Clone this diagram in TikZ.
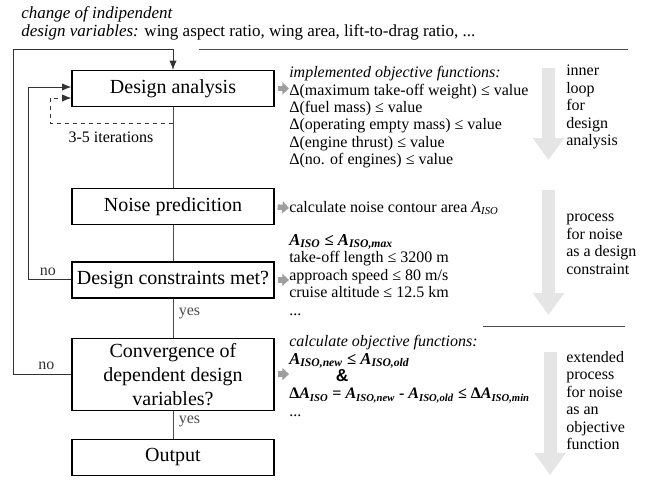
\documentclass[tikz,border=0pt]{standalone}
\usepackage{fontspec}
\setmainfont{Liberation Serif}
\setsansfont{Liberation Sans}
\usetikzlibrary{%
  arrows.meta,
  positioning,
  calc}
\tikzset{
  %% Process boxes of the main loop
  procbox/.style={
    rectangle, draw=black, line width=0.9pt, fill=white,
    minimum width=151.5pt, minimum height=27pt,
    align=center, inner sep=1pt,
    font=\fontsize{15}{18}\selectfont},
  %% Text blocks beside the boxes
  notetext/.style={
    anchor=north west, align=left, inner sep=0pt,
    font=\fontsize{12}{13.1}\selectfont},
  %% Small labels on connectors
  looplabel/.style={
    inner sep=1pt, font=\fontsize{12}{14}\selectfont},
  %% Lines and arrows
  flowline/.style={line width=0.7pt, black!70},
  arrow/.style={-{Latex[length=7pt,width=5.5pt]}, line width=0.7pt, black!80},
  darrow/.style={-{Latex[length=7pt,width=5.5pt]}, line width=0.6pt, dashed, black!80},
  garrow/.style={-{Triangle[length=5pt,width=9pt]}, line width=4pt, black!38},
  bigarrow/.style={-{Triangle[length=16.5pt,width=22.5pt]}, line width=9.75pt, black!10},
}
\newcommand{\Aiso}[1]{\textbf{\textit{A}}\textsubscript{\textbf{\textit{#1}}}}

\begin{document}
\begin{tikzpicture}[x=0.75pt, y=-0.75pt]
  \useasboundingbox (0,0) rectangle (645,480);

  %% Main column of process boxes
  \node[procbox] (da) at (173,88.5) {Design analysis};
  \node[procbox, below=60.75pt of da] (np) {Noise predicition};
  \node[procbox, below=27pt of np]    (dc) {Design constraints met?};
  \node[procbox, below=29.25pt of dc, minimum height=54pt] (cv)
    {Convergence of\\ dependent design\\ variables?};
  \node[procbox, below=21pt of cv]    (out) {Output};

  %% Main flow
  \draw[flowline] (da) -- (np);
  \draw[flowline] (np) -- (dc);
  \draw[flowline] (dc) -- node[looplabel, right=3pt, pos=0.38] {yes} (cv);
  \draw[flowline] (cv) -- node[looplabel, right=3pt, pos=0.4]  {yes} (out);

  %% Inner loop (dashed)
  \coordinate (dsplit) at (173,123);
  \coordinate (dturn)  at (50,98);
  \draw[darrow] (dsplit) -| (dturn) -- (da.west |- dturn);
  \node[looplabel] (iter) at (111,137) {3-5 iterations};

  %% Constraint loop
  \coordinate (cturn) at (28,87);
  \draw[arrow] (dc.west) -- node[looplabel, above=2pt, pos=0.54] {no} (cturn |- dc.west)
    -- (cturn) -- (da.west |- cturn);

  %% Convergence loop
  \coordinate (oturn) at (13,49);
  \draw[arrow] (cv.west) -- node[looplabel, above=2pt, pos=0.43] {no} (oturn |- cv.west)
    -- (oturn) -| (da.north);

  %% Independent design variables
  \node[notetext, font=\fontsize{12.75}{13.6}\selectfont] (topvar) at (21,6)
    {\textit{change of indipendent}\\
     \textit{design variables:} wing aspect ratio, wing area, lift-to-drag ratio, ...};
  \draw[flowline] (199,49) -- (628,49);
  \draw[flowline] (483,326) -- (625,326);

  %% Text beside the boxes
  \node[notetext] (daobj) at (289,66)
    {\textit{implemented objective functions:}\\
     Δ(maximum take-off weight) ≤ value\\
     Δ(fuel mass) ≤ value\\
     Δ(operating empty mass) ≤ value\\
     Δ(engine thrust) ≤ value\\
     Δ(no. of engines) ≤ value};
  \node[notetext, anchor=west] (npcalc) at (289,208)
    {calculate noise contour area \textit{A}\textsubscript{\textit{ISO}}};
  \node[notetext] (dccon) at (289,234)
    {{\fontsize{12.5}{13.1}\selectfont\Aiso{ISO} \textbf{≤} \Aiso{ISO,max}}\\
     take-off length ≤ 3200 m\\
     approach speed ≤ 80 m/s\\
     cruise altitude ≤ 12.5 km\\
     ...};
  \node[notetext] (cvobj) at (289,335)
    {\textit{calculate objective functions:}\\
     {\fontsize{12.5}{13.1}\selectfont\Aiso{ISO,new} \textbf{≤} \Aiso{ISO,old}}\\
     \hspace*{35pt}{\fontsize{13}{13.1}\sffamily\bfseries\&}\\
     {\bfseries Δ\Aiso{ISO} = \Aiso{ISO,new} - \Aiso{ISO,old} ≤ Δ\Aiso{ISO,min}}\\
     ...};

  %% Small grey arrows from the boxes
  \draw[garrow, shorten <=2.25pt] (da.east) -- (da.east -| daobj.west);
  \draw[garrow, shorten <=2.25pt] (np.east) -- (npcalc.west);
  \draw[garrow, shorten <=2.25pt] (dc.east) -- (dc.east -| dccon.west);
  \draw[garrow, shorten <=2.25pt] (cv.east) -- (cv.east -| cvobj.west);

  %% Process arrows on the right
  \coordinate (inA) at (548.5,68);  \coordinate (inB) at (548.5,160);
  \coordinate (ncA) at (548.5,190); \coordinate (ncB) at (548.5,315);
  \coordinate (noA) at (550,352);   \coordinate (noB) at (550,475);
  \draw[bigarrow] (inA) -- (inB);
  \draw[bigarrow] (ncA) -- (ncB);
  \draw[bigarrow] (noA) -- (noB);

  \node[notetext] (inlp) at (566,65) {inner\\ loop\\ for\\ design\\ analysis};
  \node[notetext] (ncon) at (566,214) {process\\ for noise\\ as a design\\ constraint};
  \node[notetext] (nobj) at (566,351) {extended\\ process\\ for noise\\ as an\\ objective\\ function};

\end{tikzpicture}
\end{document}
